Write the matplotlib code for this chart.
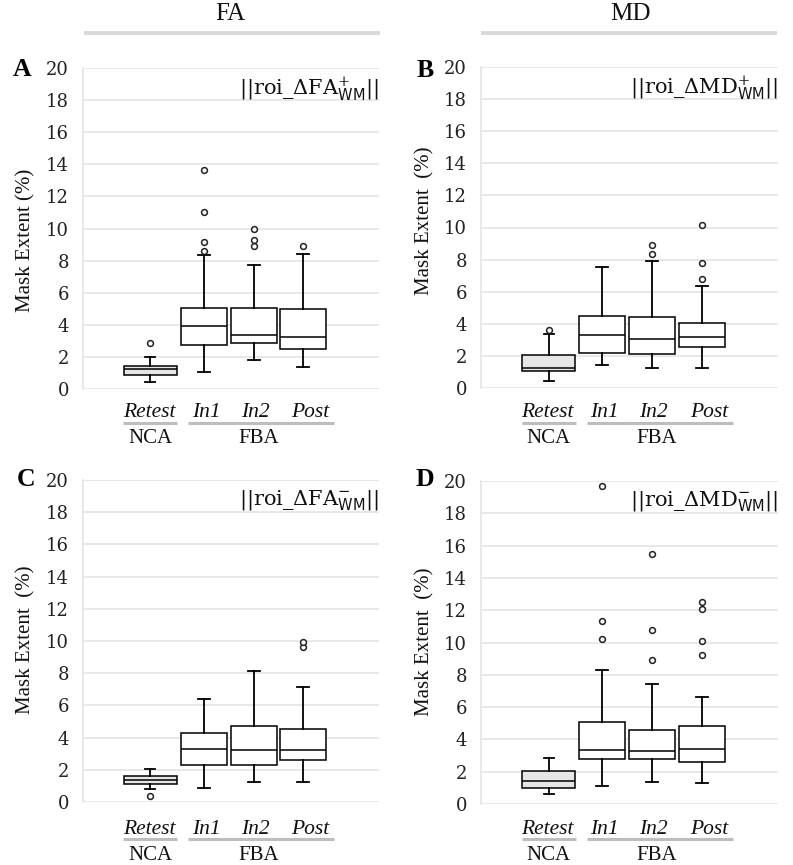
import matplotlib
matplotlib.use("Agg")
import matplotlib.pyplot as plt
from matplotlib.transforms import blended_transform_factory
from matplotlib.lines import Line2D

plt.rcParams['mathtext.fontset'] = 'custom'
plt.rcParams['mathtext.rm'] = 'DejaVu Serif'
plt.rcParams['mathtext.sf'] = 'DejaVu Sans'
plt.rcParams['mathtext.it'] = 'DejaVu Serif:italic'

# ---------------- data ----------------
categories = ["Retest", "In1", "In2", "Post"]
groups = ["NCA", "FBA"]
column_titles = ["FA", "MD"]
panel_letters = ["A", "B", "C", "D"]
panel_labels = [r'$||\mathrm{roi\_\Delta FA}^{+}_{\mathsf{WM}}||$',
                r'$||\mathrm{roi\_\Delta MD}^{+}_{\mathsf{WM}}||$',
                r'$||\mathrm{roi\_\Delta FA}^{-}_{\mathsf{WM}}||$',
                r'$||\mathrm{roi\_\Delta MD}^{-}_{\mathsf{WM}}||$']
y_ticks = [0, 2, 4, 6, 8, 10, 12, 14, 16, 18, 20]

# each: [whislo, q1, med, q3, whishi] per category
A_stats = [[0.46, 0.90, 1.25, 1.41, 1.97],
           [1.08, 2.72, 3.90, 5.03, 8.37],
           [1.83, 2.87, 3.39, 5.03, 7.75],
           [1.37, 2.49, 3.24, 4.98, 8.43]]
A_fliers = [[2.87], [8.58, 9.16, 11.05, 13.67], [8.89, 9.26, 9.99], [8.89]]

B_stats = [[0.46, 1.04, 1.26, 2.03, 3.38],
           [1.45, 2.18, 3.30, 4.50, 7.56],
           [1.22, 2.09, 3.05, 4.41, 7.90],
           [1.22, 2.55, 3.17, 4.08, 6.38]]
B_fliers = [[3.63], [], [8.33, 8.91], [6.82, 7.77, 10.16]]

C_stats = [[0.83, 1.14, 1.39, 1.60, 2.07],
           [0.89, 2.32, 3.27, 4.31, 6.42],
           [1.22, 2.32, 3.21, 4.70, 8.15],
           [1.22, 2.63, 3.21, 4.54, 7.15]]
C_fliers = [[0.39], [], [], [9.60, 9.95]]

D_stats = [[0.60, 0.97, 1.43, 2.07, 2.87],
           [1.12, 2.77, 3.35, 5.05, 8.27],
           [1.37, 2.77, 3.27, 4.59, 7.45],
           [1.28, 2.59, 3.43, 4.84, 6.62]]
D_fliers = [[], [10.22, 11.35, 19.69], [8.93, 10.75, 15.45], [9.25, 10.07, 12.08, 12.53]]

all_stats = [A_stats, B_stats, C_stats, D_stats]
all_fliers = [A_fliers, B_fliers, C_fliers, D_fliers]

# ---------------- layout ----------------
W, H = 793, 865
fig = plt.figure(figsize=(W / 100, H / 100), dpi=100)

def fx(px):
    return px / W

def fy(py):
    return 1 - py / H

# axes boxes in pixels: left, right, top(20), bottom(0)
ax_px = [(83, 379, 68, 389), (481, 778, 67, 388),
         (83, 379, 480, 802), (481, 778, 481, 804)]
positions = [1, 2.07, 3.07, 4.06]
widths = [1.06, 0.92, 0.92, 0.92]
label_pos = [0.98, 2.12, 3.10, 4.20]
group_pos = [1.0, 3.16]
underline_spans = [(0.46, 1.54), (1.76, 4.68)]
row_text_y = [(417, 422.5, 443), (834, 838.5, 860.5)]
letter_xy = [(22, 70), (425, 70.5), (26, 479.5), (425, 479.5)]
ylabel_xy = [(26, 240), (425, 221), (26, 640), (425, 642)]
ylabel_txt = ["Mask Extent (%)", "Mask Extent  (%)", "Mask Extent  (%)", "Mask Extent  (%)"]

serif = "Liberation Serif"
grid_c = "#e4e4e4"

for i in range(4):
    l, r, t, b = ax_px[i]
    ax = fig.add_axes([fx(l), fy(b), (r - l) / W, (b - t) / H])
    stats = []
    for j, c in enumerate(categories):
        wl, q1, med, q3, wh = all_stats[i][j]
        stats.append(dict(label=c, whislo=wl, q1=q1, med=med, q3=q3,
                          whishi=wh, fliers=all_fliers[i][j]))
    bp = ax.bxp(stats, positions=positions, widths=widths, patch_artist=True,
                capwidths=[0.2, 0.24, 0.24, 0.24],
                boxprops=dict(edgecolor="black", linewidth=1.1),
                medianprops=dict(color="black", linewidth=1.1),
                whiskerprops=dict(color="black", linewidth=1.3),
                capprops=dict(color="black", linewidth=1.3),
                flierprops=dict(marker="o", markersize=4.2, markerfacecolor="white",
                                markeredgecolor="#222222", markeredgewidth=1.1))
    for j, patch in enumerate(bp["boxes"]):
        patch.set_facecolor("#e6e6e6" if j == 0 else "white")
    ax.set_ylim(0, 20)
    ax.set_xlim(-0.35, 5.58)
    ax.set_yticks(y_ticks)
    ax.set_yticklabels([str(v) for v in y_ticks], fontfamily="DejaVu Serif",
                       fontsize=13, color="#222222")
    ax.tick_params(axis="y", length=0, pad=10)
    ax.set_xticks([])
    ax.yaxis.grid(True, color=grid_c, linewidth=1.2, zorder=0)
    ax.set_axisbelow(True)
    for s in ["top", "right", "bottom"]:
        ax.spines[s].set_visible(False)
    ax.spines["left"].set_color(grid_c)
    ax.spines["left"].set_linewidth(1.2)

    ax.text(1.0, 0.975, panel_labels[i], transform=ax.transAxes, ha="right",
            va="top", fontsize=15, color="#111111")

    row = i // 2
    cy, uy, gy = row_text_y[row]
    tr = blended_transform_factory(ax.transData, fig.transFigure)
    for j, c in enumerate(categories):
        ax.text(label_pos[j], fy(cy), c, transform=tr, ha="center", va="baseline",
                fontfamily=serif, fontstyle="italic", fontsize=15.5, color="#111111")
    for (x0, x1) in underline_spans:
        ax.add_line(Line2D([x0, x1], [fy(uy), fy(uy)], transform=tr, color="#bdbdbd",
                           linewidth=2.2, clip_on=False, solid_capstyle="butt"))
    for j, g in enumerate(groups):
        ax.text(group_pos[j], fy(gy), g, transform=tr, ha="center", va="baseline",
                fontfamily=serif, fontsize=15, color="#111111")

    lx, ly = letter_xy[i]
    fig.text(fx(lx), fy(ly), panel_letters[i], ha="center", va="center",
             fontfamily=serif, fontweight="bold", fontsize=18.5)
    yx, yy = ylabel_xy[i]
    fig.text(fx(yx), fy(yy), ylabel_txt[i], ha="center", va="center", rotation=90,
             fontfamily=serif, fontsize=15, color="#111111")

# column titles with gray bars
for k, (cx, x0, x1) in enumerate([(230, 84, 380), (630, 481, 777)]):
    fig.text(fx(cx), fy(14.5), column_titles[k], ha="center", va="center",
             fontfamily=serif, fontsize=18, color="#111111")
    fig.add_artist(Line2D([fx(x0), fx(x1)], [fy(33), fy(33)], color="#d9d9d9",
                          linewidth=2.8, solid_capstyle="butt"))

fig.savefig("out.png", dpi=100, facecolor="white")
